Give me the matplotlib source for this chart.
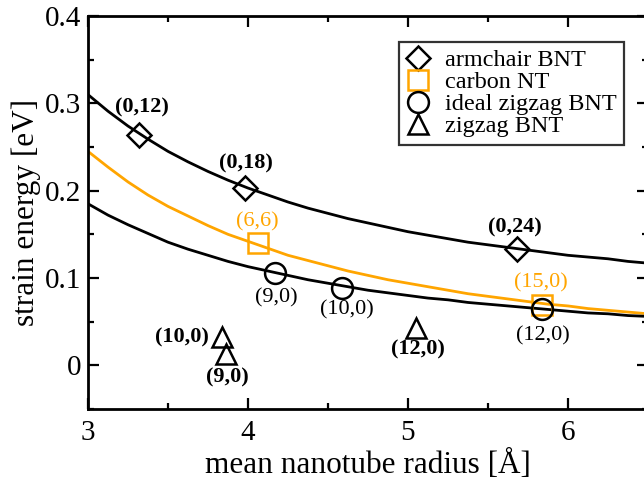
import matplotlib
matplotlib.use("Agg")
import matplotlib.pyplot as plt
from matplotlib.ticker import MultipleLocator

plt.rcParams['font.family'] = ['Liberation Serif', 'DejaVu Serif']

# data points (radius in Angstrom, strain energy in eV)
armchair_r = [3.32, 3.98, 5.68]
armchair_e = [0.264, 0.203, 0.133]
armchair_lbl = ['(0,12)', '(0,18)', '(0,24)']

carbon_r = [4.06, 5.84]
carbon_e = [0.140, 0.069]
carbon_lbl = ['(6,6)', '(15,0)']

ideal_r = [4.17, 4.59, 5.84]
ideal_e = [0.106, 0.089, 0.065]
ideal_lbl = ['(9,0)', '(10,0)', '(12,0)']

zigzag_r = [3.84, 3.86, 5.05]
zigzag_e = [0.032, 0.013, 0.043]
zigzag_lbl = ['(10,0)', '(9,0)', '(12,0)']

# fitted curves
curve_r = [3.0, 3.125, 3.25, 3.375, 3.5, 3.625, 3.75, 3.875, 4.0, 4.125, 4.25,
           4.375, 4.5, 4.625, 4.75, 4.875, 5.0, 5.125, 5.25, 5.375, 5.5, 5.625,
           5.75, 5.875, 6.0, 6.125, 6.25, 6.375, 6.5]
fit_armchair = [0.310, 0.291, 0.274, 0.259, 0.245, 0.233, 0.222, 0.212, 0.203,
                0.195, 0.187, 0.180, 0.174, 0.168, 0.163, 0.158, 0.153, 0.149,
                0.145, 0.141, 0.138, 0.135, 0.132, 0.129, 0.126, 0.124, 0.122,
                0.119, 0.117]
fit_carbon = [0.245, 0.227, 0.210, 0.195, 0.182, 0.171, 0.160, 0.150, 0.142,
              0.134, 0.126, 0.120, 0.114, 0.108, 0.103, 0.098, 0.094, 0.090,
              0.086, 0.082, 0.079, 0.076, 0.073, 0.070, 0.068, 0.065, 0.063,
              0.061, 0.059]
fit_ideal = [0.185, 0.172, 0.161, 0.151, 0.141, 0.133, 0.126, 0.119, 0.113,
             0.108, 0.103, 0.098, 0.094, 0.090, 0.086, 0.083, 0.080, 0.077,
             0.075, 0.072, 0.070, 0.068, 0.066, 0.064, 0.062, 0.060, 0.059,
             0.057, 0.056]

ORANGE = '#FFA500'

fig = plt.figure(figsize=(6.44, 4.8), dpi=100)
ax = fig.add_axes([88 / 644, 71 / 480, 560 / 644, 393 / 480])

ax.plot(curve_r, fit_armchair, color='black', lw=2.0, zorder=2)
ax.plot(curve_r, fit_carbon, color=ORANGE, lw=2.0, zorder=2)
ax.plot(curve_r, fit_ideal, color='black', lw=2.0, zorder=2)

ax.plot(armchair_r, armchair_e, 'D', ms=12, mfc='none', mec='black', mew=1.8,
        ls='none', label='armchair BNT', zorder=3)
ax.plot(carbon_r, carbon_e, 's', ms=15, mfc='none', mec=ORANGE, mew=1.8,
        ls='none', label='carbon NT', zorder=3)
ax.plot(ideal_r, ideal_e, 'o', ms=15, mfc='none', mec='black', mew=1.8,
        ls='none', label='ideal zigzag BNT', zorder=4)
ax.plot(zigzag_r, zigzag_e, '^', ms=15, mfc='none', mec='black', mew=1.8,
        ls='none', label='zigzag BNT', zorder=3)

fs = 16
# label positions
arm_pos = [(3.34, 0.295), (3.99, 0.231), (5.67, 0.158)]
carb_pos = [(4.06, 0.164), (5.83, 0.095)]
ideal_pos = [(4.18, 0.077), (4.62, 0.064), (5.84, 0.034)]
zig_pos = [(3.59, 0.032), (3.87, -0.014), (5.06, 0.018)]

for t, (x, y) in zip(armchair_lbl, arm_pos):
    ax.text(x, y, t, ha='center', va='center', fontsize=fs, fontweight='bold')
for t, (x, y) in zip(carbon_lbl, carb_pos):
    ax.text(x, y, t, ha='center', va='center', fontsize=fs, color=ORANGE)
for t, (x, y) in zip(ideal_lbl, ideal_pos):
    ax.text(x, y, t, ha='center', va='center', fontsize=fs)
for t, (x, y) in zip(zigzag_lbl, zig_pos):
    ax.text(x, y, t, ha='center', va='center', fontsize=fs, fontweight='bold')

ax.set_xlim(3, 6.5)
ax.set_ylim(-0.05, 0.4)
ax.xaxis.set_major_locator(MultipleLocator(1))
ax.xaxis.set_minor_locator(MultipleLocator(0.5))
ax.yaxis.set_minor_locator(MultipleLocator(0.05))
ax.set_yticks([0, 0.1, 0.2, 0.3, 0.4])
ax.set_yticklabels(['0', '0.1', '0.2', '0.3', '0.4'])
ax.tick_params(which='both', direction='in', top=True, right=True,
               labelsize=21, width=1.6)
ax.tick_params(which='major', length=8)
ax.tick_params(axis='x', which='major', pad=8)
ax.tick_params(axis='y', which='major', pad=5)
ax.tick_params(which='minor', length=4)
for s in ax.spines.values():
    s.set_linewidth(2.0)

ax.set_xlabel('mean nanotube radius [Å]', fontsize=22.5, labelpad=3)
ax.set_ylabel('strain energy [eV]', fontsize=22.5, labelpad=3)

leg = ax.legend(loc='upper right', bbox_to_anchor=(624 / 644, 1 - 42 / 480),
                bbox_transform=fig.transFigure, borderaxespad=0, fontsize=17.5,
                fancybox=False, frameon=True, handlelength=1.0,
                handletextpad=0.6, labelspacing=0.0, borderpad=0.3,
                markerscale=1.0)
leg.get_frame().set_edgecolor('black')
leg.get_frame().set_linewidth(1.6)

fig.savefig('out.png', dpi=100)
